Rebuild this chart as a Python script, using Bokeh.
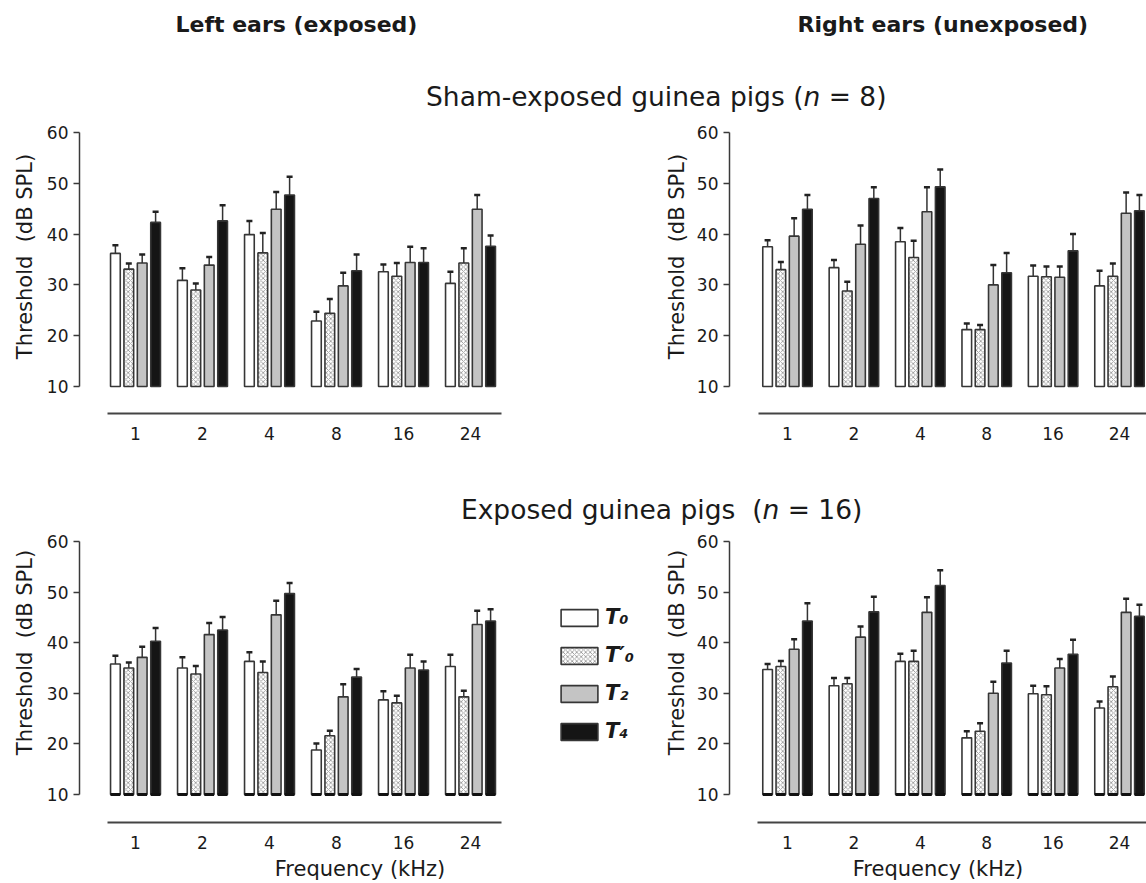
import numpy as np
from bokeh.plotting import figure
from bokeh.models import (Range1d, FixedTicker, ColumnDataSource, Whisker, TeeHead,
                          Legend, LegendItem)
from bokeh.layouts import column, row
from bokeh.core.properties import value
from bokeh.embed import file_html
from bokeh.resources import INLINE

# ---------------- data ----------------
freq_labels = ["1", "2", "4", "8", "16", "24"]
conditions = ["T₀", "T′₀", "T₂", "T₄"]

# Sham-exposed guinea pigs (n = 8), left ears: rows = T0, T0', T2, T4
sham_left_mean = [
    [36.2, 30.9, 39.9, 22.9, 32.6, 30.3],
    [33.1, 29.0, 36.3, 24.4, 31.7, 34.3],
    [34.3, 33.9, 44.9, 29.8, 34.4, 44.9],
    [42.3, 42.6, 47.7, 32.8, 34.4, 37.6],
]
sham_left_sem = [
    [1.6, 2.4, 2.7, 1.8, 1.4, 2.3],
    [1.1, 1.3, 3.9, 2.8, 2.6, 2.9],
    [1.7, 1.6, 3.4, 2.6, 3.1, 2.8],
    [2.1, 3.1, 3.6, 3.2, 2.8, 2.1],
]
# Sham-exposed, right ears
sham_right_mean = [
    [37.5, 33.4, 38.5, 21.2, 31.7, 29.8],
    [33.0, 28.8, 35.4, 21.2, 31.6, 31.7],
    [39.6, 38.0, 44.4, 30.0, 31.5, 44.1],
    [44.9, 47.0, 49.3, 32.4, 36.7, 44.6],
]
sham_right_sem = [
    [1.3, 1.5, 2.7, 1.2, 2.1, 3.0],
    [1.5, 1.8, 3.3, 0.9, 2.0, 2.5],
    [3.5, 3.7, 4.8, 3.9, 2.1, 4.1],
    [2.8, 2.2, 3.4, 3.9, 3.3, 3.1],
]
# Exposed guinea pigs (n = 16), left ears
exp_left_mean = [
    [35.8, 35.0, 36.3, 18.8, 28.7, 35.3],
    [35.0, 33.8, 34.1, 21.6, 28.1, 29.3],
    [37.1, 41.6, 45.5, 29.3, 35.0, 43.6],
    [40.3, 42.5, 49.7, 33.2, 34.6, 44.3],
]
exp_left_sem = [
    [1.6, 2.1, 1.8, 1.3, 1.7, 2.3],
    [1.1, 1.6, 2.2, 1.0, 1.4, 1.2],
    [2.1, 2.3, 2.8, 2.5, 2.6, 2.7],
    [2.6, 2.6, 2.1, 1.6, 1.7, 2.3],
]
# Exposed, right ears
exp_right_mean = [
    [34.7, 31.5, 36.3, 21.2, 29.9, 27.1],
    [35.3, 31.9, 36.3, 22.5, 29.7, 31.3],
    [38.7, 41.1, 46.0, 30.0, 35.0, 46.0],
    [44.3, 46.1, 51.3, 36.0, 37.7, 45.2],
]
exp_right_sem = [
    [1.1, 1.5, 1.5, 1.3, 1.6, 1.3],
    [1.1, 1.1, 2.1, 1.6, 1.7, 2.0],
    [2.0, 2.1, 3.0, 2.3, 1.8, 2.7],
    [3.5, 3.0, 3.0, 2.4, 2.9, 2.3],
]

y_ticks = [10, 20, 30, 40, 50, 60]
y_base = 10

# ---------------- styles ----------------
FONT = "DejaVu Sans"
TXT = "#1a1a1a"
AXC = "#3a3a3a"
fills = ["white", "white", "#c4c4c4", "#151515"]
hatches = [None, "diagonal_cross", None, None]
offsets = [-0.3, -0.1, 0.1, 0.3]
BAR_W = 0.145
Y_LABEL = "Threshold\u00a0 (dB SPL)"

# ---------------- geometry (page pixels) ----------------
TOTAL_W = 1146
SPLIT = 640


def blank(x0, x1, top, bottom, frame_top=None, frame_bot=None):
    """Axis-less figure whose data coordinates equal page pixels."""
    w, h = x1 - x0, bottom - top
    ft = top if frame_top is None else frame_top
    fb = bottom if frame_bot is None else frame_bot
    f = figure(width=w, height=h, x_range=Range1d(x0, x1), y_range=Range1d(fb, ft),
               output_backend="svg", toolbar_location=None,
               min_border_left=0, min_border_right=0,
               min_border_top=ft - top, min_border_bottom=bottom - fb,
               x_axis_location=None, y_axis_location=None)
    f.outline_line_color = None
    f.grid.visible = False
    f.background_fill_color = "white"
    f.border_fill_color = "white"
    return f


def add_text(f, xp, yp, txt, size, style="normal", align="left", angle=0.0):
    f.text(x=[xp], y=[yp], text=[txt], text_font=value(FONT),
           text_font_size=value(size), text_font_style=style, text_align=align,
           text_baseline="middle", text_color=TXT, angle=angle)


def ylabel_fig(x0, x1, top, bottom, frame_top, frame_bot, cx, cy):
    f = blank(x0, x1, top, bottom, frame_top, frame_bot)
    add_text(f, cx, cy, Y_LABEL, "21px", align="center", angle=np.pi / 2)
    return f


def make_panel(means, sems, x0_px, x1_px, axis_px, g0_px, ppu, line_start_px, line_end_px,
               top_px, bottom_px, frame_top_px, frame_bot_px, y10_px, xlabel=False,
               base_line=False):
    width = x1_px - x0_px
    height = bottom_px - top_px
    frame_w = x1_px - axis_px
    x_start = -(g0_px - axis_px) / ppu
    x_end = x_start + frame_w / ppu
    ppy = (y10_px - frame_top_px) / (60 - y_base)
    y_start = y_base - (frame_bot_px - y10_px) / ppy
    p = figure(width=width, height=height, x_range=Range1d(x_start, x_end),
               y_range=Range1d(y_start, 60), output_backend="svg", toolbar_location=None,
               min_border_left=axis_px - x0_px, min_border_right=0,
               min_border_top=frame_top_px - top_px,
               min_border_bottom=bottom_px - frame_bot_px)
    p.outline_line_color = None
    p.grid.visible = False
    p.background_fill_color = "white"
    p.border_fill_color = "white"

    x = np.arange(len(freq_labels))
    rends = []
    for k in range(4):
        m = np.array(means[k], dtype=float)
        s = np.array(sems[k], dtype=float)
        xs = x + offsets[k]
        src = ColumnDataSource(dict(x=xs, top=m, err=m + s))
        kw = {}
        if hatches[k]:
            kw = dict(hatch_pattern=hatches[k], hatch_color="#8e8e8e", hatch_scale=4.5,
                      hatch_weight=0.8)
        r = p.vbar(x="x", top="top", bottom=y_base, width=BAR_W, source=src,
                   fill_color=fills[k], line_color="#363636", line_width=1.6, **kw)
        rends.append(r)
        p.add_layout(Whisker(source=src, base="x", lower="top", upper="err",
                             dimension="height", line_color="#333333", line_width=1.5,
                             upper_head=TeeHead(size=6, line_color="#222222", line_width=2.5),
                             lower_head=None, level="annotation"))
        if base_line:
            p.segment(x0=xs - BAR_W / 2, x1=xs + BAR_W / 2, y0=y_base, y1=y_base,
                      line_width=3, line_color="#111111")

    # y axis
    ya = p.yaxis[0]
    ya.ticker = FixedTicker(ticks=y_ticks)
    ya.bounds = (y_ticks[0], y_ticks[-1])
    ya.minor_tick_line_color = None
    ya.major_tick_in = 0
    ya.major_tick_out = 6
    ya.major_tick_line_width = 1.5
    ya.major_tick_line_color = AXC
    ya.axis_line_color = AXC
    ya.axis_line_width = 1.5
    ya.major_label_standoff = 5
    ya.major_label_text_font = FONT
    ya.major_label_text_font_size = "17px"
    ya.major_label_text_color = TXT

    # x axis (detached line below the bars)
    xa = p.xaxis[0]
    xa.ticker = FixedTicker(ticks=list(range(len(freq_labels))))
    xa.major_label_overrides = {i: lbl for i, lbl in enumerate(freq_labels)}
    xa.bounds = ((line_start_px - g0_px) / ppu, (line_end_px - g0_px) / ppu)
    xa.major_tick_line_color = None
    xa.minor_tick_line_color = None
    xa.major_tick_in = 0
    xa.major_tick_out = 0
    xa.axis_line_color = "#444444"
    xa.axis_line_width = 2
    xa.major_label_standoff = 13
    xa.major_label_text_font = FONT
    xa.major_label_text_font_size = "17px"
    xa.major_label_text_color = TXT
    if xlabel:
        xa.axis_label = "Frequency (kHz)"
        xa.axis_label_text_font = FONT
        xa.axis_label_text_font_size = "21px"
        xa.axis_label_text_font_style = "normal"
        xa.axis_label_text_color = TXT
        xa.axis_label_text_line_height = 1.0
        xa.axis_label_standoff = 5
    return p, rends


TITLE_SIZE = 26.5
n_gap = (0.634 + 0.318) * TITLE_SIZE  # italic "n" + one space
sham_n = 803
exp_n = 762

# header rows
hdr_a = blank(0, TOTAL_W, 0, 118)
add_text(hdr_a, 175, 23.5, "Left ears (exposed)", "22px", "bold")
add_text(hdr_a, 797, 23.5, "Right ears (unexposed)", "22px", "bold")
add_text(hdr_a, sham_n, 96, "Sham-exposed guinea pigs (", f"{TITLE_SIZE}px", align="right")
add_text(hdr_a, sham_n, 96, "n", f"{TITLE_SIZE}px", "italic")
add_text(hdr_a, sham_n + n_gap, 96, "= 8)", f"{TITLE_SIZE}px")

hdr_c = blank(0, TOTAL_W, 452, 528)
add_text(hdr_c, exp_n, 508.5, "Exposed guinea pigs\u00a0 (", f"{TITLE_SIZE}px", align="right")
add_text(hdr_c, exp_n, 508.5, "n", f"{TITLE_SIZE}px", "italic")
add_text(hdr_c, exp_n + n_gap, 508.5, "= 16)", f"{TITLE_SIZE}px")

# top row: sham-exposed
yl_tl = ylabel_fig(0, 40, 118, 452, 132, 413, 24, 256)
tl, _ = make_panel(sham_left_mean, sham_left_sem, 40, SPLIT, 79, 135, 67.0, 107, 501,
                   118, 452, 132, 413, 386)
yl_tr = ylabel_fig(SPLIT, 690, 118, 452, 132, 413, 676, 256)
tr, _ = make_panel(sham_right_mean, sham_right_sem, 690, TOTAL_W, 729, 787, 66.4, 758, 1400,
                   118, 452, 132, 413, 386)

# bottom row: exposed
yl_bl = ylabel_fig(0, 40, 528, 883, 541, 822, 24, 652)
bl, bl_r = make_panel(exp_left_mean, exp_left_sem, 40, SPLIT, 79, 135, 67.0, 107, 501,
                      528, 883, 541, 822, 794, xlabel=True, base_line=True)
yl_br = ylabel_fig(SPLIT, 690, 528, 883, 541, 822, 676, 652)
br, _ = make_panel(exp_right_mean, exp_right_sem, 690, TOTAL_W, 729, 787, 66.4, 757, 1400,
                   528, 883, 541, 822, 794, xlabel=True, base_line=True)

legend = Legend(items=[LegendItem(label=conditions[k], renderers=[bl_r[k]]) for k in range(4)],
                location=(556 - 79, 822 - 743), padding=0, margin=0, spacing=14,
                glyph_width=46, glyph_height=21, label_height=21, label_standoff=3,
                label_text_font=FONT, label_text_font_style="bold italic",
                label_text_font_size="21px", label_text_color=TXT,
                border_line_color=None, background_fill_alpha=0)
bl.add_layout(legend)

layout = column(hdr_a, row(yl_tl, tl, yl_tr, tr), hdr_c, row(yl_bl, bl, yl_br, br))

open("out.html", "w").write(file_html(layout, INLINE))
